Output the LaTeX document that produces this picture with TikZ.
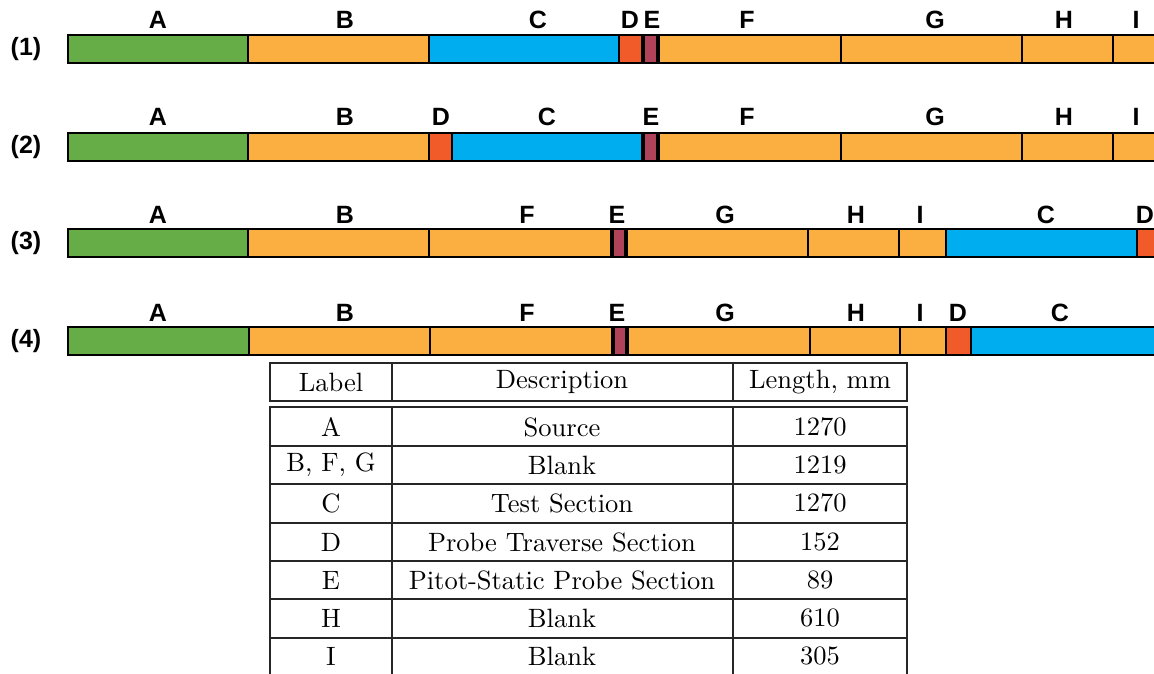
\documentclass[tikz,border=0pt]{standalone}
\usepackage{fontspec}
\newfontfamily\arialb[BoldFont={Liberation Sans Bold}]{Liberation Sans}
\newfontfamily\lmten{lmroman10-regular.otf}
\definecolor{cA}{HTML}{66AD47}
\definecolor{cB}{HTML}{FBAF41}
\definecolor{cC}{HTML}{00AEEF}
\definecolor{cD}{HTML}{F15A29}
\definecolor{cE}{HTML}{B0435A}
\tikzset{
  seg/.style={draw=black, line width=1.8pt},
  eseg/.style={draw=black, line width=1.8pt, fill=cE},
  eedge/.style={draw=black, line width=3.2pt},
  lab/.style={font=\arialb\bfseries\fontsize{25}{28}\selectfont, inner sep=0pt, anchor=center},
  tline/.style={draw=black!85, line width=1.1pt},
  cell/.style={font=\lmten\fontsize{26.5}{31}\selectfont, inner sep=0pt, anchor=center}
}
\newcommand{\eblock}[3]{%
  \path[eseg] (#1,#3) rectangle (#2,#3+28);
  \path[eedge] (#1,#3) -- (#1,#3+28) (#2,#3) -- (#2,#3+28);}
\begin{document}
\begin{tikzpicture}[x=1pt,y=-1pt]
\useasboundingbox (0,0) rectangle (1154,674);
\clip (0,0) rectangle (1154,674);
\fill[white] (0,0) rectangle (1154,674);
% ---------- Row 1 ----------
\node[lab] (r1) at (26,49) {(1)};
\path[seg,fill=cA] (68,35) rectangle (248,63);
\path[seg,fill=cB] (248,35) rectangle (429,63);
\path[seg,fill=cC] (429,35) rectangle (619,63);
\path[seg,fill=cD] (619,35) rectangle (642,63);
\path[seg,fill=cB] (659,35) rectangle (841,63);
\eblock{643.5}{657.5}{35}
\path[seg,fill=cB] (841,35) rectangle (1022,63);
\path[seg,fill=cB] (1022,35) rectangle (1113,63);
\path[seg,fill=cB] (1113,35) rectangle (1170,63);
\node[lab] (r1a) at (158,20) {A};
\node[lab] (r1b) at (345,20) {B};
\node[lab] (r1c) at (538,20) {C};
\node[lab] (r1d) at (630,20) {D};
\node[lab] (r1e) at (652,20) {E};
\node[lab] (r1f) at (747,20) {F};
\node[lab] (r1g) at (935,20) {G};
\node[lab] (r1h) at (1064,20) {H};
\node[lab] (r1i) at (1136,20) {I};
% ---------- Row 2 ----------
\node[lab] (r2) at (26,147) {(2)};
\path[seg,fill=cA] (68,133) rectangle (248,161);
\path[seg,fill=cB] (248,133) rectangle (429,161);
\path[seg,fill=cD] (429,133) rectangle (452,161);
\path[seg,fill=cC] (452,133) rectangle (642,161);
\path[seg,fill=cB] (659,133) rectangle (841,161);
\eblock{643.5}{657.5}{133}
\path[seg,fill=cB] (841,133) rectangle (1022,161);
\path[seg,fill=cB] (1022,133) rectangle (1113,161);
\path[seg,fill=cB] (1113,133) rectangle (1170,161);
\node[lab] (r2a) at (158,117) {A};
\node[lab] (r2b) at (345,117) {B};
\node[lab] (r2d) at (441,117) {D};
\node[lab] (r2c) at (547,117) {C};
\node[lab] (r2e) at (651,117) {E};
\node[lab] (r2f) at (747,117) {F};
\node[lab] (r2g) at (935,117) {G};
\node[lab] (r2h) at (1064,117) {H};
\node[lab] (r2i) at (1136,117) {I};
% ---------- Row 3 ----------
\node[lab] (r3) at (26,243) {(3)};
\path[seg,fill=cA] (68,229) rectangle (248,257);
\path[seg,fill=cB] (248,229) rectangle (429,257);
\path[seg,fill=cB] (429,229) rectangle (611,257);
\path[seg,fill=cB] (626,229) rectangle (808,257);
\eblock{612}{626}{229}
\path[seg,fill=cB] (808,229) rectangle (899,257);
\path[seg,fill=cB] (899,229) rectangle (946,257);
\path[seg,fill=cC] (946,229) rectangle (1137,257);
\path[seg,fill=cD] (1137,229) rectangle (1170,257);
\node[lab] (r3a) at (158,215) {A};
\node[lab] (r3b) at (345,215) {B};
\node[lab] (r3f) at (527,215) {F};
\node[lab] (r3e) at (617,215) {E};
\node[lab] (r3g) at (725,215) {G};
\node[lab] (r3h) at (856,215) {H};
\node[lab] (r3i) at (920,215) {I};
\node[lab] (r3c) at (1046,215) {C};
\node[lab] (r3d) at (1145,215) {D};
% ---------- Row 4 ----------
\node[lab] (r4) at (26,341) {(4)};
\path[seg,fill=cA] (68,327) rectangle (249,355);
\path[seg,fill=cB] (249,327) rectangle (430,355);
\path[seg,fill=cB] (430,327) rectangle (612,355);
\path[seg,fill=cB] (627,327) rectangle (810,355);
\eblock{613}{627}{327}
\path[seg,fill=cB] (810,327) rectangle (900,355);
\path[seg,fill=cB] (900,327) rectangle (946,355);
\path[seg,fill=cD] (946,327) rectangle (971,355);
\path[seg,fill=cC] (971,327) rectangle (1170,355);
\node[lab] (r4a) at (158,313) {A};
\node[lab] (r4b) at (345,313) {B};
\node[lab] (r4f) at (527,313) {F};
\node[lab] (r4e) at (617,313) {E};
\node[lab] (r4g) at (725,313) {G};
\node[lab] (r4h) at (856,313) {H};
\node[lab] (r4i) at (920,313) {I};
\node[lab] (r4d) at (958,313) {D};
\node[lab] (r4c) at (1060,313) {C};
% ---------- Table ----------
\path[tline] (270,363) rectangle (907,401);
\path[tline] (392,363) -- (392,401) (733,363) -- (733,401);
\path[tline] (270,407) rectangle (907,676);
\path[tline] (392,407) -- (392,676) (733,407) -- (733,676);
\foreach \yy in {446,484,523,561,599,638} {\path[tline] (270,\yy) -- (907,\yy);}
\node[cell] (h1) at (331,382) {Label};
\node[cell] (h2) at (562,382) {Description};
\node[cell] (h3) at (820,382) {Length, mm};
\node[cell] (a1) at (331,427) {A};
\node[cell] (a2) at (562,427) {Source};
\node[cell] (a3) at (820,427) {1270};
\node[cell] (b1) at (331,465) {B, F, G};
\node[cell] (b2) at (562,465) {Blank};
\node[cell] (b3) at (820,465) {1219};
\node[cell] (c1) at (331,503) {C};
\node[cell] (c2) at (562,503) {Test Section};
\node[cell] (c3) at (820,503) {1270};
\node[cell] (d1) at (331,542) {D};
\node[cell] (d2) at (562,542) {Probe Traverse Section};
\node[cell] (d3) at (820,542) {152};
\node[cell] (e1) at (331,580) {E};
\node[cell] (e2) at (562,580) {Pitot-Static Probe Section};
\node[cell] (e3) at (820,580) {89};
\node[cell] (f1) at (331,618) {H};
\node[cell] (f2) at (562,618) {Blank};
\node[cell] (f3) at (820,618) {610};
\node[cell] (g1) at (331,656) {I};
\node[cell] (g2) at (562,656) {Blank};
\node[cell] (g3) at (820,656) {305};
\end{tikzpicture}
\end{document}
